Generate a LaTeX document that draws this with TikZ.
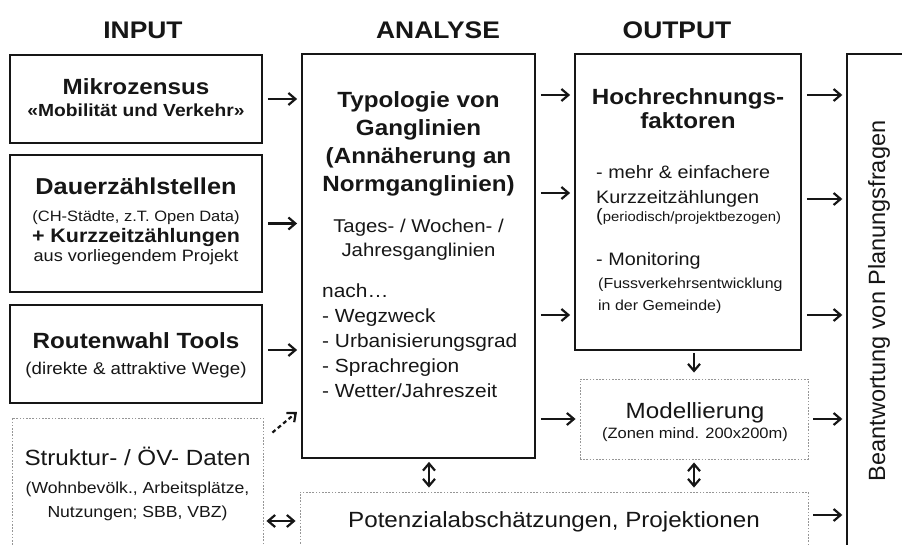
\documentclass[tikz,border=0pt]{standalone}
\usepackage{fontspec}
\setmainfont{Liberation Sans}[FakeStretch=1.1]
\newfontfamily\plainsans{Liberation Sans}
\usetikzlibrary{arrows.meta,calc}
\definecolor{ink}{RGB}{22,22,22}
\definecolor{dotc}{RGB}{150,150,150}
\newcommand{\fsz}[2]{\fontsize{#1}{#2}\selectfont}

\begin{document}
\begin{tikzpicture}[
  x=1pt, y=-1pt,
  >={Straight Barb[length=7pt,width=12pt]},
  box/.style={draw=ink, line width=1.8pt, inner sep=0pt},
  dotbox/.style={draw=dotc, line width=0.9pt, dash pattern=on 1.6pt off 1.6pt, inner sep=0pt},
  txt/.style={inner sep=0pt, text=ink, anchor=base, align=center},
  ltxt/.style={inner sep=0pt, text=ink, anchor=base west, align=left},
  hdr/.style={txt, font=\bfseries\fsz{24}{28}},
  arr/.style={->, draw=ink, line width=2.2pt, shorten <=5pt, shorten >=4pt},
  barr/.style={<->, draw=ink, line width=2.2pt, shorten <=3pt, shorten >=4pt}
]
\useasboundingbox (0,0) rectangle (902,545);

% ---------------- HEADERS ----------------
\node (hIn)  at (143,39) [hdr] {INPUT};
\node (hAn)  at (438,39) [hdr] {ANALYSE};
\node (hOut) at (677,39) [hdr] {OUTPUT};

% ---------------- INPUT ----------------
% (multi-line texts sit on the baseline of their last line)
\node (mz) at (136,99)    [box, minimum width=252pt, minimum height=88pt] {};
\node (mzT) at (136,95)   [txt, font=\bfseries\fsz{22}{26}] {Mikrozensus};
\node (mzS) at (136,117)  [txt, font=\bfseries\fsz{17.5}{20}] {«Mobilität und Verkehr»};

\node (dz) at (136,223.5) [box, minimum width=252pt, minimum height=137pt] {};
\node (dzT) at (136,195)  [txt, font=\bfseries\fsz{23}{26}] {Dauerzählstellen};
\node (dzS) at (136,222)  [txt, font=\fsz{15}{18}] {(CH-Städte, z.T. Open Data)};
\node (dzK) at (136,243)  [txt, font=\bfseries\fsz{19.5}{22}] {+ Kurzzeitzählungen};
\node (dzP) at (136,262)  [txt, font=\fsz{16.5}{20}] {aus vorliegendem Projekt};

\node (rw) at (136,354)   [box, minimum width=252pt, minimum height=98pt] {};
\node (rwT) at (136,348)  [txt, font=\bfseries\fsz{22}{26}] {Routenwahl Tools};
\node (rwS) at (136,374)  [txt, font=\fsz{17}{20}] {(direkte \& attraktive Wege)};

\node (sd) at (137.5,490) [dotbox, minimum width=251pt, minimum height=144pt] {};
\node (sdT) at (137.5,465) [txt, font=\fsz{22}{26}] {Struktur- / ÖV- Daten};
\node (sdS) at (137.5,517) [txt, font=\fsz{16}{24}] {(Wohnbevölk., Arbeitsplätze,\\Nutzungen; SBB, VBZ)};

% ---------------- ANALYSE ----------------
\node (an) at (418.5,256) [box, minimum width=233pt, minimum height=404pt] {};
\node (anT) at (418.5,192) [txt, font=\bfseries\fsz{22}{28.3}] {Typologie von\\Ganglinien\\(Annäherung an\\Normganglinien)};
\node (anG) at (418.5,257) [txt, font=\fsz{18.5}{24}] {Tages- / Wochen- /\\Jahresganglinien};
\node (anL) at (322,397)   [ltxt, font=\fsz{19}{25}] {nach…\\- Wegzweck\\- Urbanisierungsgrad\\- Sprachregion\\- Wetter/Jahreszeit};

% ---------------- OUTPUT ----------------
\node (hr) at (688,202) [box, minimum width=226pt, minimum height=296pt] {};
\node (hrT) at (688,129) [txt, font=\bfseries\fsz{22}{24}] {Hochrechnungs-\\faktoren};
\node (hrA) at (596,204) [ltxt, font=\fsz{18}{25}] {- mehr \& einfachere\\Kurzzeitzählungen};
\node (hrB) at (596,222) [ltxt, font=\fsz{13.5}{16}] {{\fsz{18}{18}(}periodisch/projektbezogen)};
\node (hrC) at (596,266) [ltxt, font=\fsz{18}{22}] {- Monitoring};
\node (hrD) at (598,310) [ltxt, font=\fsz{14.5}{22}] {(Fussverkehrsentwicklung\\in der Gemeinde)};

\node (mo) at (694,419) [dotbox, minimum width=228pt, minimum height=80pt] {};
\node (moT) at (695,418) [txt, font=\fsz{22}{26}] {Modellierung};
\node (moS) at (695,438) [txt, font=\fsz{15}{18}] {(Zonen mind. 200x200m)};

\node (pa) at (554,527) [dotbox, minimum width=508pt, minimum height=70pt] {};
\node (paT) at (554,527) [txt, font=\fsz{22}{26}] {Potenzialabschätzungen, Projektionen};

\node (bw) at (880,308) [draw=ink, line width=1.4pt, inner sep=0pt, minimum width=66pt, minimum height=508pt] {};
\node (bwT) at (885,301) [txt, rotate=90, font=\plainsans\fsz{23.5}{28}] {Beantwortung von Planungsfragen};

% ---------------- CONNECTORS ----------------
\coordinate (yA) at (0,95);
\coordinate (yB) at (0,193);
\coordinate (yC) at (0,315);
\coordinate (yE) at (0,199);
\coordinate (yP) at (0,515);
\coordinate (yQ) at (0,521);
\coordinate (xV) at (429,0);
\coordinate (dtip) at (297,412);

\draw[arr] (mz.east) -- (mz.east -| an.west);
\draw[arr] (dz.east) -- (dz.east -| an.west);
\draw[arr] ([yshift=4pt]rw.east) -- ([yshift=4pt]rw.east -| an.west);
\draw[arr, dash pattern=on 4pt off 3pt, shorten <=0pt, shorten >=0pt] ([shift={(9,15)}]sd.north east) -- (dtip);
\draw[barr] (sd.east |- yQ) -- (pa.west |- yQ);

\draw[arr] (an.east |- yA) -- (hr.west |- yA);
\draw[arr] (an.east |- yB) -- (hr.west |- yB);
\draw[arr] (an.east |- yC) -- (hr.west |- yC);
\draw[arr] (an.east |- mo.west) -- (mo.west);
\draw[barr] (an.south -| xV) -- (pa.north -| xV);

\draw[arr, shorten <=2pt, shorten >=6pt] (hr.south -| mo.north) -- (mo.north);
\draw[barr] (mo.south) -- (mo.south |- pa.north);

\draw[arr] (hr.east |- yA) -- (bw.west |- yA);
\draw[arr] (hr.east |- yE) -- (bw.west |- yE);
\draw[arr] (hr.east |- yC) -- (bw.west |- yC);
\draw[arr] (mo.east) -- (mo.east -| bw.west);
\draw[arr] (pa.east |- yP) -- (bw.west |- yP);

\end{tikzpicture}
\end{document}
